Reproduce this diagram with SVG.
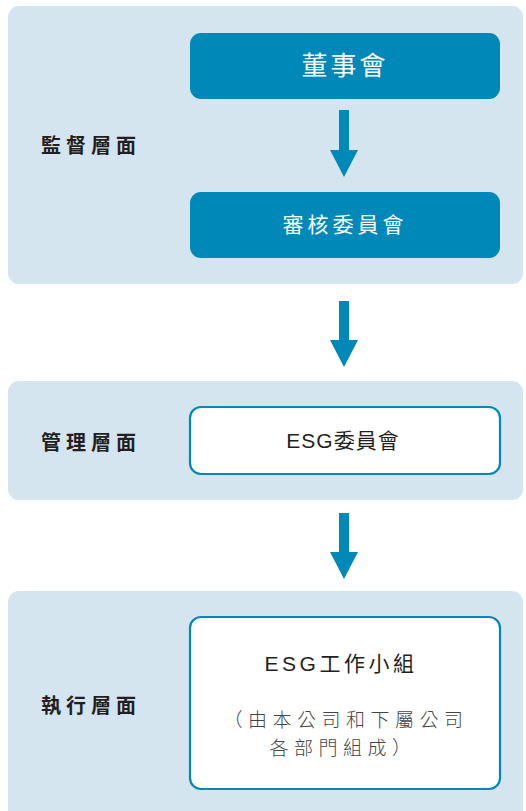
<svg xmlns="http://www.w3.org/2000/svg" width="526" height="811" viewBox="0 0 526 811">
<style>
.panel{fill:#d4e5f0}
.solid{fill:#0088b8}
.outline{fill:#ffffff;stroke:#0088b8;stroke-width:2.2}
.lbl{font-family:"Noto Sans CJK TC","Noto Sans CJK SC",sans-serif;font-weight:bold;font-size:20px;fill:#231f20;letter-spacing:5px}
.wt{font-family:"Liberation Sans","Noto Sans CJK TC",sans-serif;fill:#ffffff;text-anchor:middle}
.dk{font-family:"Liberation Sans","Noto Sans CJK TC",sans-serif;fill:#231f20;text-anchor:middle}
.lt{font-family:"Noto Sans CJK TC","Noto Sans CJK SC",sans-serif;font-weight:300;fill:#444;text-anchor:middle;font-size:19px;letter-spacing:5.5px}
</style>
<rect width="526" height="811" fill="#ffffff"/>
<g id="panel-supervision">
<rect class="panel" x="8" y="6" width="515" height="278" rx="11"/>
<text class="lbl" x="41" y="153">監督層面</text>
</g>
<g id="panel-management">
<rect class="panel" x="8" y="381" width="515" height="119" rx="11"/>
<text class="lbl" x="41" y="450">管理層面</text>
</g>
<g id="panel-execution">
<rect class="panel" x="8" y="591" width="515" height="240" rx="11"/>
<text class="lbl" x="41" y="713">執行層面</text>
</g>
<g id="node-board">
<rect class="solid" x="190" y="33" width="310" height="66" rx="11"/>
<text class="wt" x="345" y="75" font-size="26" letter-spacing="3">董事會</text>
</g>
<g id="node-audit">
<rect class="solid" x="190" y="192" width="310" height="66" rx="11"/>
<text class="wt" x="345" y="232" font-size="21" letter-spacing="4">審核委員會</text>
</g>
<g id="node-esg-committee">
<rect class="outline" x="190" y="407" width="310" height="67" rx="11"/>
<text class="dk" x="343" y="448" font-size="21" letter-spacing="1">ESG委員會</text>
</g>
<g id="node-esg-group">
<rect class="outline" x="190" y="617" width="310" height="172" rx="11"/>
<text class="dk" x="341" y="671" font-size="21" letter-spacing="3.5">ESG工作小組</text>
<text class="lt" x="346" y="727">（由本公司和下屬公司</text>
<text class="lt" x="343" y="755">各部門組成）</text>
</g>
<g id="connectors" fill="#0088b8">
<polygon points="339,110 349,110 349,150 358,150 344,177 330,150 339,150"/>
<polygon points="339,301 349,301 349,340 358,340 344,367 330,340 339,340"/>
<polygon points="339,513 349,513 349,552 358,552 344,579 330,552 339,552"/>
</g>
</svg>
